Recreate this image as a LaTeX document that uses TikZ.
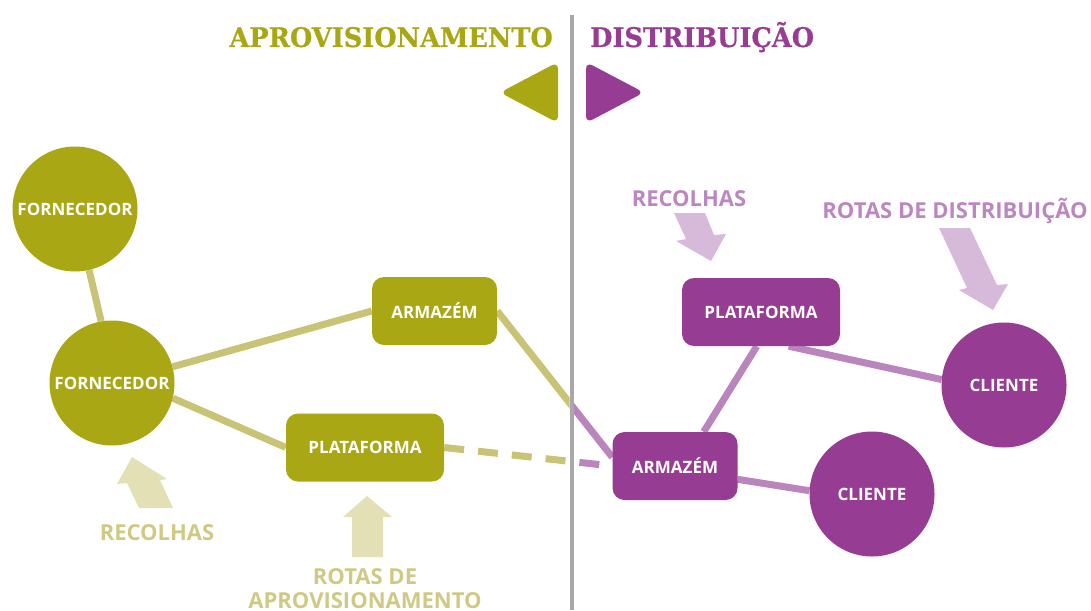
\documentclass[tikz,border=0pt]{standalone}
\usepackage{fontspec}
\setmainfont{Open Sans}
\newfontfamily\headfont[FakeStretch=0.95, FakeBold=0.6]{DejaVu Serif}
\usetikzlibrary{calc,backgrounds}

\definecolor{olive}{HTML}{A9A713}
\definecolor{purple}{HTML}{973C93}
\definecolor{olivelink}{HTML}{C9C375}
\definecolor{purplelink}{HTML}{BA85BC}
\definecolor{olivepale}{HTML}{E3E0B6}
\definecolor{purplepale}{HTML}{D7BAD9}
\definecolor{olivetext}{HTML}{CFC983}
\definecolor{purpletext}{HTML}{BC87C0}
\definecolor{divider}{HTML}{A8A8AB}

\tikzset{
	site/.style={circle, minimum size=125, inner sep=0, text=white, font=\fontsize{17}{19}\selectfont\bfseries},
	depot/.style={rectangle, rounded corners=12, minimum height=68, inner sep=0, text=white, font=\fontsize{17}{19}\selectfont\bfseries},
	link/.style={line width=7},
	tag/.style={inner sep=0, anchor=base, font=\fontsize{22}{24}\selectfont\bfseries},
	head/.style={inner sep=0, font=\fontsize{27}{29}\selectfont\headfont\bfseries}
}

\begin{document}
\begin{tikzpicture}[x=1pt, y=-1pt]
			%%%%% START %%%%%
			\useasboundingbox (0, 0) rectangle (1091, 610);
			
			\fill[divider] (569.5, 15) rectangle (574, 610);
			
			\node[head, text=olive, anchor=base east] (aprov) at (553, 47) {APROVISIONAMENTO};
			\node[head, text=purple, anchor=base west] (distr) at (590, 47) {DISTRIBUIÇÃO};
			
			\fill[olive, rounded corners=7] (558, 62) -- (558, 123) -- (500, 92.5) -- cycle;
			\fill[purple, rounded corners=7] (586, 62) -- (586, 123) -- (644, 92.5) -- cycle;
			
			% aprovisionamento
			\node[site, fill=olive] (forn1) at (75, 209) {FORNECEDOR};
			\node[site, fill=olive] (forn2) at (112, 383) {FORNECEDOR};
			\node[depot, fill=olive, minimum width=125] (arm1) at (434.5, 311) {ARMAZÉM};
			\node[depot, fill=olive, minimum width=158] (plat1) at (365, 447.5) {PLATAFORMA};
			
			% distribuicao
			\node[depot, fill=purple, minimum width=158] (plat2) at (761, 312) {PLATAFORMA};
			\node[depot, fill=purple, minimum width=125] (arm2) at (675, 466) {ARMAZÉM};
			\node[site, fill=purple] (cli1) at (1004, 385) {CLIENTE};
			\node[site, fill=purple] (cli2) at (872, 494) {CLIENTE};
			
			\begin{pgfonlayer}{background}
				\draw[link, olivelink] (forn1.-77) -- (forn2.100);
				\draw[link, olivelink] (forn2.15) -- (arm1.west);
				\draw[link, olivelink] (forn2.-14) -- (plat1.west);
				
				\begin{scope}
					\clip (0, 0) rectangle (569.5, 610);
					\draw[link, olivelink] (arm1.east) -- (arm2.172);
					\draw[link, olivelink, dash pattern=on 20 off 14] (plat1.east) -- (arm2.west);
				\end{scope}
				\begin{scope}
					\clip (574, 0) rectangle (1091, 610);
					\draw[link, purplelink] (arm1.east) -- (arm2.172);
					\draw[link, purplelink, dash pattern=on 20 off 14] (plat1.east) -- (arm2.west);
				\end{scope}
				
				\draw[link, purplelink] (arm2.50) -- (plat2.-97);
				\draw[link, purplelink] (plat2.-51) -- (cli1.175);
				\draw[link, purplelink] (arm2.-12) -- (cli2.177);
			\end{pgfonlayer}
			
			% setas
			\fill[olivepale] (132, 457) -- (167, 479) -- (160, 480) -- (173, 508) -- (139, 508) -- (127, 483) -- (117, 484) -- cycle;
			\fill[olivepale] (367, 496) -- (392, 517) -- (383, 517) -- (383, 557) -- (352, 557) -- (352, 517) -- (343, 517) -- cycle;
			\fill[purplepale] (674, 213) -- (705, 213) -- (714, 235) -- (726, 234) -- (711, 261) -- (676, 241) -- (686, 239) -- cycle;
			\fill[purplepale] (939, 228) -- (970, 228) -- (997, 285) -- (1008, 284) -- (993, 310) -- (959, 290) -- (967, 288) -- cycle;
			
			\node[tag, text=olivetext] (recolhas1) at (157, 540) {RECOLHAS};
			\node[tag, text=olivetext, align=center, anchor=north] (rotas1) at (365, 568) {ROTAS DE\\APROVISIONAMENTO};
			\node[tag, text=purpletext] (recolhas2) at (689, 206) {RECOLHAS};
			\node[tag, text=purpletext] (rotas2) at (955, 218) {ROTAS DE DISTRIBUIÇÃO};
			
			%%%%% END %%%%%
		\end{tikzpicture}
\end{document}
